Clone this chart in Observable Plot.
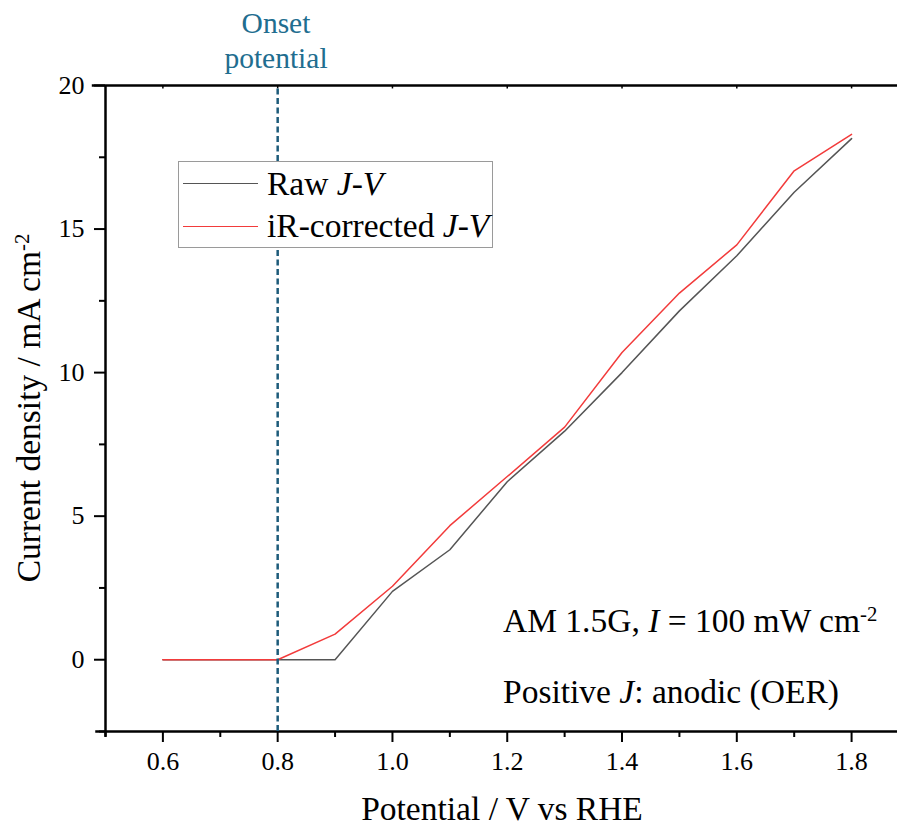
<!DOCTYPE html>
<html>
<head>
<meta charset="utf-8">
<script src="https://cdn.jsdelivr.net/npm/d3@7"></script>
<script src="https://cdn.jsdelivr.net/npm/@observablehq/plot@0.6"></script>
<style>
  html, body { margin: 0; padding: 0; background: white; overflow: hidden; }
  #wrap { position: relative; width: 897px; height: 828px; font-family: "Liberation Serif", "Times New Roman", serif; color: #000; }
  #wrap .abs { position: absolute; white-space: nowrap; line-height: 1; }
  sup { font-size: 0.62em; vertical-align: 0; position: relative; top: -0.55em; }
</style>
</head>
<body>
<div id="wrap"></div>
<script>
// ---- data ----
const potential = [0.6, 0.7, 0.8, 0.9, 1.0, 1.1, 1.2, 1.3, 1.4, 1.5, 1.6, 1.7, 1.8];
const rawJ      = [0, 0, 0, 0, 2.38, 3.83, 6.2, 7.96, 10.0, 12.15, 14.07, 16.28, 18.15];
const irJ       = [0, 0, 0, 0.89, 2.56, 4.67, 6.38, 8.1, 10.7, 12.77, 14.45, 17.03, 18.3];
const onsetV = 0.8;
const xMajorTicks = [0.6, 0.8, 1.0, 1.2, 1.4, 1.6, 1.8];
const xMinorTicks = [0.5, 0.7, 0.9, 1.1, 1.3, 1.5, 1.7];
const yMajorTicks = [0, 5, 10, 15, 20];
const yMinorTicks = [-2.5, 2.5, 7.5, 12.5, 17.5];
const seriesNames = ["Raw", "iR-corrected"];

const rawData = potential.map((v, i) => ({v, j: rawJ[i]}));
const irData = potential.map((v, i) => ({v, j: irJ[i]}));

const rawColor = "#555555";
const irColor = "#f23b3b";
const onsetColor = "#1d5b7a";
const serif = "Liberation Serif";

const chart = Plot.plot({
  width: 897,
  height: 828,
  marginLeft: 105,
  marginRight: 0,
  marginTop: 85,
  marginBottom: 97,
  x: {domain: [0.5, 1.88]},
  y: {domain: [-2.5, 20]},
  style: {fontFamily: "'Liberation Serif', 'Times New Roman', serif", fontSize: "26px", color: "#000", background: "white", overflow: "visible"},
  marks: [
    Plot.axisX({ticks: xMajorTicks, tickSize: 11, tickPadding: 9, tickFormat: d3.format(".1f"), label: null, strokeWidth: 2, fontFamily: serif, fontSize: 26}),
    Plot.axisX({ticks: xMinorTicks, tickSize: 6, tickFormat: () => "", label: null, strokeWidth: 2}),
    Plot.axisY({ticks: yMajorTicks, tickSize: 11, tickPadding: 10, tickFormat: d3.format("d"), label: null, strokeWidth: 2, fontFamily: serif, fontSize: 26}),
    Plot.axisY({ticks: yMinorTicks, tickSize: 6, tickFormat: () => "", label: null, strokeWidth: 2}),
    Plot.ruleX(xMajorTicks, {y1: 20, y2: 19.88, strokeWidth: 1.5}),
    Plot.ruleY([-2.5], {x1: 0.483, x2: 1.88, strokeWidth: 2.5}),
    Plot.ruleY([20], {x1: 0.477, x2: 1.88, strokeWidth: 2.5}),
    Plot.ruleX([0.5], {y1: -2.7, y2: 20, strokeWidth: 2.5}),
    Plot.line(rawData, {x: "v", y: "j", stroke: rawColor, strokeWidth: 1.5}),
    Plot.line(irData, {x: "v", y: "j", stroke: irColor, strokeWidth: 1.5}),
    Plot.ruleX([onsetV], {y1: -2.5, y2: 20, stroke: onsetColor, strokeWidth: 2.5, strokeDasharray: "6,3.5"})
  ]
});

const wrap = document.getElementById("wrap");
wrap.appendChild(chart);
chart.style.position = "absolute";
chart.style.left = "0px";
chart.style.top = "0px";

function addHTML(html) {
  const d = document.createElement("div");
  d.innerHTML = html;
  wrap.appendChild(d.firstElementChild);
}

// Onset label
addHTML(`<div class="abs" style="left:176px; top:6px; width:200px; text-align:center; font-size:29.5px; line-height:35px; white-space:normal; color:#216d8f;">Onset<br>potential</div>`);

// Legend
addHTML(`<div class="abs" style="left:178px; top:161px; width:315px; height:87px; border:1px solid #9a9a9a; background:white; box-sizing:border-box;">
  <div class="abs" style="left:4px; top:21px; width:75px; height:0; border-top:1.5px solid ${rawColor};"></div>
  <div class="abs" style="left:88px; top:5px; font-size:33.5px;">${seriesNames[0]} <i>J</i>-<i>V</i></div>
  <div class="abs" style="left:4px; top:64px; width:75px; height:0; border-top:1.5px solid ${irColor};"></div>
  <div class="abs" style="left:88px; top:47px; font-size:33.5px;">${seriesNames[1]} <i>J</i>-<i>V</i></div>
</div>`);

// Annotations
addHTML(`<div class="abs" style="left:503px; top:604px; font-size:33.5px;">AM 1.5G, <i>I</i> = 100 mW cm<sup>-2</sup></div>`);
addHTML(`<div class="abs" style="left:503px; top:675px; font-size:33.5px;">Positive <i>J</i>: anodic (OER)</div>`);

// Axis titles
addHTML(`<div class="abs" style="left:502px; top:792px; transform:translateX(-50%); font-size:33.5px;">Potential / V vs RHE</div>`);
addHTML(`<div class="abs" style="left:29px; top:408px; transform:translate(-50%,-50%) rotate(-90deg); font-size:33.5px;">Current density / mA cm<sup>-2</sup></div>`);
</script>
</body>
</html>
